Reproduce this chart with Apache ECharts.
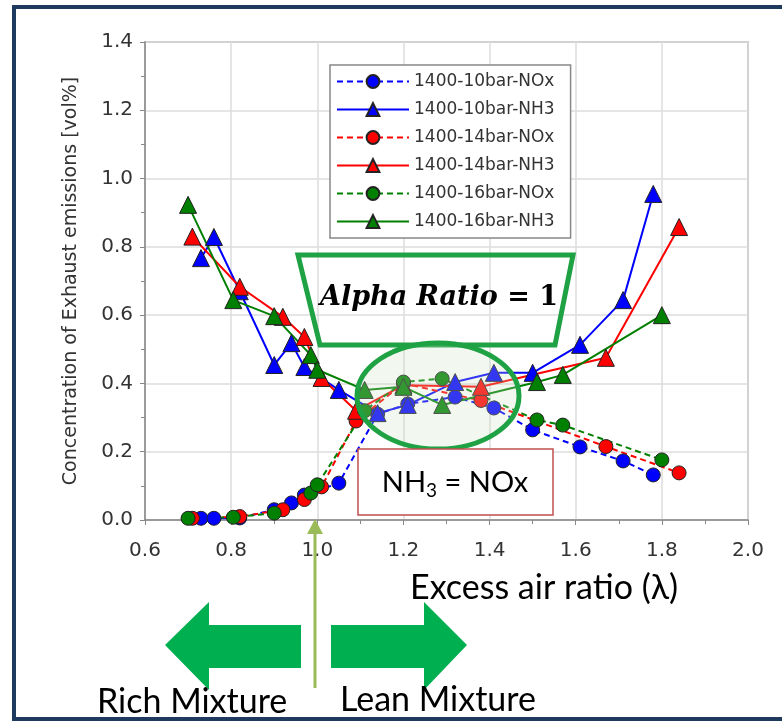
<!DOCTYPE html>
<html>
<head>
<meta charset="utf-8">
<script src="https://cdn.jsdelivr.net/npm/echarts@6/dist/echarts.min.js"></script>
<style>
  html, body { margin: 0; padding: 0; background: #fff; }
  #chart { width: 782px; height: 723px; }
</style>
</head>
<body>
<div id="chart"></div>
<script>
const xTicks = [0.6, 0.8, 1.0, 1.2, 1.4, 1.6, 1.8, 2.0];
const yTicks = [0.0, 0.2, 0.4, 0.6, 0.8, 1.0, 1.2, 1.4];

const seriesNames = [
  '1400-10bar-NOx', '1400-10bar-NH3',
  '1400-14bar-NOx', '1400-14bar-NH3',
  '1400-16bar-NOx', '1400-16bar-NH3',
];

// excess air ratio for each pressure
const lambda10 = [0.73, 0.76, 0.82, 0.90, 0.94, 0.97, 1.05, 1.14, 1.21, 1.32, 1.41, 1.50, 1.61, 1.71, 1.78];
const lambda14 = [0.71, 0.82, 0.92, 0.97, 1.01, 1.09, 1.20, 1.38, 1.67, 1.84];
const lambda16 = [0.70, 0.805, 0.90, 0.985, 1.00, 1.11, 1.20, 1.29, 1.51, 1.57, 1.80];

const nox10 = [0.005, 0.005, 0.006, 0.03, 0.05, 0.073, 0.108, 0.31, 0.34, 0.36, 0.328, 0.264, 0.214, 0.173, 0.132];
const nh310 = [0.767, 0.829, 0.67, 0.454, 0.518, 0.448, 0.381, 0.313, 0.337, 0.404, 0.431, 0.431, 0.513, 0.644, 0.955];
const nox14 = [0.005, 0.01, 0.03, 0.06, 0.097, 0.29, 0.40, 0.35, 0.215, 0.138];
const nh314 = [0.83, 0.683, 0.595, 0.536, 0.416, 0.32, 0.395, 0.39, 0.475, 0.858];
const nox16 = [0.005, 0.008, 0.02, 0.079, 0.103, 0.32, 0.404, 0.414, 0.293, 0.278, 0.176];
const nh316 = [0.923, 0.644, 0.597, 0.483, 0.44, 0.381, 0.39, 0.337, 0.404, 0.425, 0.60];

const pair = (xs, ys) => xs.map((x, i) => [x, ys[i]]);

const makeSeries = (name, xs, ys, color, isNox) => ({
  name,
  type: 'line',
  data: pair(xs, ys),
  symbol: isNox ? 'circle' : 'triangle',
  symbolSize: isNox ? 14 : 17,
  lineStyle: { color, width: 2, type: isNox ? [6, 4] : 'solid' },
  itemStyle: { color, borderColor: '#222', borderWidth: 1 },
  emphasis: { disabled: true },
  z: 3,
});

const series = [
  makeSeries(seriesNames[0], lambda10, nox10, '#0000ff', true),
  makeSeries(seriesNames[1], lambda10, nh310, '#0000ff', false),
  makeSeries(seriesNames[2], lambda14, nox14, '#ff0000', true),
  makeSeries(seriesNames[3], lambda14, nh314, '#ff0000', false),
  makeSeries(seriesNames[4], lambda16, nox16, '#008000', true),
  makeSeries(seriesNames[5], lambda16, nh316, '#008000', false),
];

const green = '#1fa244';
const arrowGreen = '#00b050';
const calibri = 'Lato, "Open Sans", sans-serif';

const chart = echarts.init(document.getElementById('chart'));
chart.setOption({
  backgroundColor: '#fff',
  animation: false,
  grid: {
    left: 145, right: 34, top: 42, bottom: 203,
    show: true, borderColor: '#999', borderWidth: 1.5,
  },
  legend: {
    data: seriesNames,
    orient: 'vertical',
    left: 330, top: 65,
    itemWidth: 72, itemHeight: 16, itemGap: 11,
    padding: [8, 16, 8, 6],
    backgroundColor: '#fff',
    borderColor: '#888', borderWidth: 1.5,
    textStyle: { color: '#333', fontSize: 17, fontFamily: 'DejaVu Sans' },
  },
  xAxis: {
    type: 'value',
    min: xTicks[0], max: xTicks[xTicks.length - 1], interval: 0.2,
    axisLine: { lineStyle: { color: '#888', width: 1.5 } },
    axisTick: { show: true, length: 5, lineStyle: { color: '#888' } },
    minorTick: { show: true, splitNumber: 2, length: 4, lineStyle: { color: '#888' } },
    splitLine: { lineStyle: { color: '#ddd', width: 1.5 } },
    axisLabel: {
      color: '#333', fontSize: 20, fontFamily: 'DejaVu Sans', margin: 21,
      formatter: (v) => v.toFixed(1),
    },
  },
  yAxis: {
    type: 'value',
    min: yTicks[0], max: yTicks[yTicks.length - 1], interval: 0.2,
    name: 'Concentration of Exhaust emissions [vol%]',
    nameLocation: 'middle', nameGap: 64,
    nameTextStyle: { color: '#333', fontSize: 19, fontFamily: 'DejaVu Sans' },
    axisLine: { show: true, lineStyle: { color: '#888', width: 1.5 } },
    axisTick: { show: true, length: 5, lineStyle: { color: '#888' } },
    minorTick: { show: true, splitNumber: 2, length: 4, lineStyle: { color: '#888' } },
    splitLine: { lineStyle: { color: '#ddd', width: 1.5 } },
    axisLabel: {
      color: '#333', fontSize: 20, fontFamily: 'DejaVu Sans', margin: 12,
      formatter: (v) => v.toFixed(1),
    },
  },
  series,
  graphic: [
    // outer frame
    {
      type: 'rect', z: 100,
      shape: { x: 14, y: 7, width: 800, height: 712 },
      style: { fill: 'none', stroke: '#1f3a5f', lineWidth: 4 },
    },
    // alpha ratio trapezoid
    {
      type: 'polygon', z: 100,
      shape: { points: [[298, 255], [573, 255], [555, 345], [320, 345]] },
      style: { fill: 'none', stroke: green, lineWidth: 5 },
    },
    {
      type: 'text', z: 101, x: 439, y: 298,
      style: {
        text: '{i|Alpha Ratio}{b| = 1}',
        align: 'center', verticalAlign: 'middle',
        rich: {
          i: { fontFamily: 'DejaVu Serif', fontStyle: 'italic', fontWeight: 'bold', fontSize: 27, fill: '#000' },
          b: { fontFamily: 'DejaVu Serif', fontWeight: 'bold', fontSize: 27, fill: '#000' },
        },
      },
    },
    // crossing ellipse
    {
      type: 'ellipse', z: 100,
      shape: { cx: 438, cy: 396, rx: 81, ry: 53 },
      style: { fill: 'rgba(205, 222, 195, 0.25)', stroke: green, lineWidth: 5 },
    },
    // NH3 = NOx box
    {
      type: 'rect', z: 100,
      shape: { x: 358, y: 449, width: 195, height: 66 },
      style: { fill: '#fff', stroke: '#c0504d', lineWidth: 1.5 },
    },
    {
      type: 'text', z: 101, x: 455, y: 483,
      style: {
        text: '{n|NH}{s|3}{n| = NOx}',
        align: 'center', verticalAlign: 'middle',
        rich: {
          n: { fontFamily: calibri, fontSize: 29, fill: '#000' },
          s: { fontFamily: calibri, fontSize: 19, fill: '#000', padding: [16, 0, 0, 0] },
        },
      },
    },
    // stoichiometric marker arrow
    {
      type: 'line', z: 100,
      shape: { x1: 315, y1: 688, x2: 315, y2: 532 },
      style: { stroke: '#9bbb59', lineWidth: 3 },
    },
    {
      type: 'polygon', z: 100,
      shape: { points: [[315, 519], [307, 534], [323, 534]] },
      style: { fill: '#9bbb59' },
    },
    // rich / lean arrows
    {
      type: 'polygon', z: 100,
      shape: { points: [[165, 645], [209, 602], [209, 625], [301, 625], [301, 668], [209, 668], [209, 690]] },
      style: { fill: arrowGreen },
    },
    {
      type: 'polygon', z: 100,
      shape: { points: [[467, 645], [424, 602], [424, 625], [331, 625], [331, 668], [424, 668], [424, 690]] },
      style: { fill: arrowGreen },
    },
    {
      type: 'text', z: 101, x: 410, y: 588,
      style: { text: 'Excess air ratio (λ)', fontFamily: calibri, fontSize: 34, fill: '#000', verticalAlign: 'middle' },
    },
    {
      type: 'text', z: 101, x: 97, y: 702,
      style: { text: 'Rich Mixture', fontFamily: calibri, fontSize: 34, fill: '#000', verticalAlign: 'middle' },
    },
    {
      type: 'text', z: 101, x: 340, y: 700,
      style: { text: 'Lean Mixture', fontFamily: calibri, fontSize: 34, fill: '#000', verticalAlign: 'middle' },
    },
  ],
});

window.addEventListener('resize', () => chart.resize());
</script>
</body>
</html>
